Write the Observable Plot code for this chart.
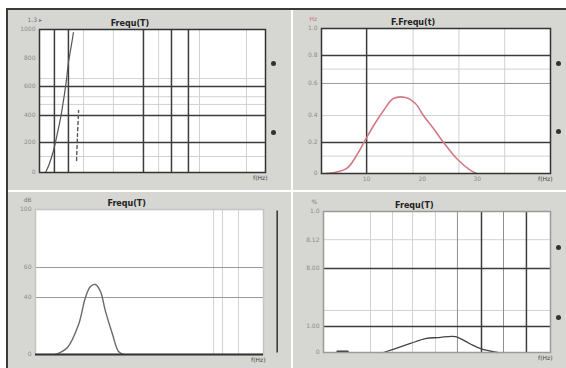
<!DOCTYPE html>
<html><head><meta charset="utf-8">
<script src="https://cdn.jsdelivr.net/npm/d3@7"></script>
<script src="https://cdn.jsdelivr.net/npm/@observablehq/plot@0.6"></script>
<style>
html,body{margin:0;padding:0;background:#fff;}
#wrap{position:relative;width:566px;height:368px;overflow:hidden;font-family:"DejaVu Sans",sans-serif;}
.panel{position:absolute;}
.panel svg{display:block;}
#border{position:absolute;left:6px;top:8px;width:560px;height:360px;border-left:2px solid #3a3a3a;border-top:2px solid #3a3a3a;box-sizing:border-box;pointer-events:none;}
</style>
</head><body>
<div id="wrap"><div id="border"></div></div>
<script>
// ---- Titles ----
const titles = ["Frequ(T)", "F.Frequ(t)", "Frequ(T)", "Frequ(T)"];
const cornerLabels = ["1.3 ▸", "Hz", "dB", "%"];
const unitLabel = "f(Hz)";

// ---- Top-left panel ----
const tlCurveX = [2.7, 4.4, 6.2, 8.0, 9.3, 10.6, 11.9, 12.8, 13.7, 14.6, 15.0];
const tlCurveY = [0, 6.3, 15.4, 28.0, 37.8, 50.3, 64.3, 76.9, 85.3, 93.7, 97.9];
const tlDashX = [16.4, 16.8, 17.3];
const tlDashY = [8.4, 25.9, 43.4];
const tlGridXDark = [6.6, 12.8, 46.0, 58.4, 65.9];
const tlGridXLight = [19.5, 32.7, 52.7, 70.8, 91.6];
const tlGridYDark = [21.0, 39.9, 60.1];
const tlGridYLight = [11.2, 47.6, 53.0, 65.7];
const tlYTicks = [0, 21.0, 39.9, 60.1, 80, 100];
const tlYLabels = ["0", "200", "400", "600", "800", "1000"];
const tlKnobs = [76.2, 28.0];

// ---- Top-right panel ----
const trCurveX = [2.2, 10.9, 15.3, 19.7, 23.6, 27.1, 31.4, 36.7, 41.0, 44.5, 48.9, 53.3, 59.0, 65.1, 67.7];
const trCurveY = [0, 3.4, 12.4, 24.8, 35.2, 43.4, 51.7, 52.4, 48.3, 40.0, 31.0, 21.4, 10.3, 2.1, 0];
const trGridXDark = [19.7];
const trGridXLight = [40, 60, 80];
const trGridYDark = [21.4, 81.4];
const trGridYMid = [62.1];
const trGridYLight = [40.0, 12, 72];
const trYTicks = [0, 21.4, 40.0, 62.1, 81.4, 100];
const trYLabels = ["0", "0.2", "0.4", "0.6", "0.8", "1.0"];
const trXTicks = [19.7, 44, 68];
const trXLabels = ["10", "20", "30"];
const trKnobs = [75.9, 29.0];

// ---- Bottom-left panel ----
const blCurveX = [8.8, 14.0, 18.9, 21.9, 24.1, 26.3, 28.5, 30.7, 33.8, 36.4, 38.6];
const blCurveY = [0, 4.8, 20.7, 39.3, 46.9, 48.3, 43.4, 29.7, 13.8, 2.1, 0];
const blGridXLight = [78.1, 82.0, 89.0];
const blGridYMid = [39.3, 60.0];
const blBaseline = [0];
const blYTicks = [0, 39.3, 60.0, 100];
const blYLabels = ["0", "40", "60", "100"];
const blRightAxis = [106];

// ---- Bottom-right panel ----
const brCurveX = [26.4, 31.7, 38.3, 44.9, 50.7, 58.1, 64.3, 69.2, 76.7];
const brCurveY = [0, 2.8, 6.4, 9.9, 10.6, 11.3, 6.4, 2.8, 0];
const brDashX = [6.2, 10.6];
const brDashY = [0.5, 0.5];
const brGridXDark = [69.6, 89.4];
const brGridXMid = [59.0, 79.3];
const brGridXLight = [20.7, 30.4, 39.2, 49.3];
const brGridYDark = [18.4, 59.6];
const brGridYLight = [29.8, 80];
const brYTicks = [0, 18.4, 40, 59.6, 80, 100];
const brYLabels = ["0", "1.00", "", "8.00", "8.12", "1.0"];
const brKnobs = [74.5, 24.8];

const BG = "#d6d6d2";

function pts(xs, ys) { return xs.map((x, i) => ({x, y: ys[i]})); }

function panel(opts) {
  const o = opts;
  const marks = [
    Plot.frame({fill: "white", stroke: "none"}),
  ];
  if (o.gxl) marks.push(Plot.ruleX(o.gxl, {stroke: "#d2d2d2", strokeWidth: 1}));
  if (o.gyl) marks.push(Plot.ruleY(o.gyl, {stroke: "#d2d2d2", strokeWidth: 1}));
  if (o.gxm) marks.push(Plot.ruleX(o.gxm, {stroke: "#8f8f8f", strokeWidth: 1}));
  if (o.gym) marks.push(Plot.ruleY(o.gym, {stroke: "#9a9a9a", strokeWidth: 1}));
  if (o.gxd) marks.push(Plot.ruleX(o.gxd, {stroke: "#3c3c3c", strokeWidth: 1.5}));
  if (o.gyd) marks.push(Plot.ruleY(o.gyd, {stroke: "#3c3c3c", strokeWidth: 1.5}));
  for (const c of o.curves) {
    marks.push(Plot.line(c.data, {x: "x", y: "y", stroke: c.color, strokeWidth: c.w || 1.3, strokeDasharray: c.dash, curve: "catmull-rom"}));
  }
  marks.push(Plot.frame({stroke: o.frameColor || "#333", strokeWidth: 1.5}));
  if (o.base) marks.push(Plot.ruleY(o.base, {stroke: "#333", strokeWidth: 1.8}));
  marks.push(Plot.axisY(o.yTicks, {tickSize: 0, tickPadding: 4, fontSize: 6, fill: "#8c8c8c", tickFormat: (d, i) => o.yLabels[i], label: null}));
  if (o.xTicks) marks.push(Plot.axisX(o.xTicks, {tickSize: 0, tickPadding: 3, fontSize: 6, fill: "#8c8c8c", tickFormat: (d, i) => o.xLabels[i], label: null}));
  marks.push(Plot.text([{t: o.title, x: 40}], {x: "x", text: "t", frameAnchor: "top", dy: -9, fontSize: 8, fontWeight: "bold", fill: "#222"}));
  marks.push(Plot.text([o.corner], {frameAnchor: "top-left", dx: -12, dy: -12, fontSize: 6, fill: o.cornerColor || "#777", textAnchor: "start"}));
  marks.push(Plot.text([unitLabel], {frameAnchor: "bottom-right", dx: 2, dy: 7, fontSize: 6, fill: "#444", textAnchor: "end"}));
  if (o.knobs) marks.push(Plot.dot(o.knobs, {y: d => d, frameAnchor: "right", dx: 8, r: 2.5, fill: "#333"}));
  if (o.rightAxis) marks.push(Plot.ruleX(o.rightAxis, {stroke: "#333", strokeWidth: 1.5, y1: 1, y2: 99}));
  const svg = Plot.plot({
    width: o.w, height: o.h,
    marginLeft: o.ml, marginRight: o.mr, marginTop: o.mt, marginBottom: o.mb,
    x: {domain: [0, 100], axis: null},
    y: {domain: [0, 100], axis: null},
    style: {background: BG, fontFamily: "DejaVu Sans, sans-serif", overflow: "visible"},
    marks
  });
  const div = document.createElement("div");
  div.className = "panel";
  div.style.left = o.left + "px";
  div.style.top = o.top + "px";
  div.appendChild(svg);
  document.getElementById("wrap").insertBefore(div, document.getElementById("border"));
}

// top-left
panel({left: 7, top: 9, w: 284, h: 181, ml: 32, mr: 26, mt: 20, mb: 18,
  gxd: tlGridXDark, gxl: tlGridXLight, gyd: tlGridYDark, gyl: tlGridYLight,
  curves: [{data: pts(tlCurveX, tlCurveY), color: "#555", w: 1.2}, {data: pts(tlDashX, tlDashY), color: "#555", dash: "3,3", w: 1.4}],
  yTicks: tlYTicks, yLabels: tlYLabels, title: titles[0], corner: cornerLabels[0], knobs: tlKnobs});

// top-right
panel({left: 293, top: 9, w: 273, h: 181, ml: 28, mr: 16, mt: 19, mb: 17,
  gxd: trGridXDark, gxl: trGridXLight, gyd: trGridYDark, gym: trGridYMid, gyl: trGridYLight,
  curves: [{data: pts(trCurveX, trCurveY), color: "#d27a86", w: 1.6}],
  yTicks: trYTicks, yLabels: trYLabels, xTicks: trXTicks, xLabels: trXLabels,
  title: titles[1], corner: cornerLabels[1], cornerColor: "#d07080", knobs: trKnobs});

// bottom-left
panel({left: 7, top: 192, w: 284, h: 176, ml: 28, mr: 28, mt: 17, mb: 14,
  gxl: blGridXLight, gym: blGridYMid,
  curves: [{data: pts(blCurveX, blCurveY), color: "#6a6a6a", w: 1.4}],
  yTicks: blYTicks, yLabels: blYLabels, title: titles[2], corner: cornerLabels[2],
  frameColor: "#c4c4c4", base: blBaseline, rightAxis: blRightAxis});

// bottom-right
panel({left: 293, top: 192, w: 273, h: 176, ml: 30, mr: 16, mt: 19, mb: 16,
  gxd: brGridXDark, gxm: brGridXMid, gxl: brGridXLight, gyd: brGridYDark, gyl: brGridYLight,
  curves: [{data: pts(brCurveX, brCurveY), color: "#444", w: 1.3}, {data: pts(brDashX, brDashY), color: "#333", w: 2.5}],
  yTicks: brYTicks, yLabels: brYLabels, title: titles[3], corner: cornerLabels[3],
  frameColor: "#9a9a9a", knobs: brKnobs});
</script>
</body></html>
